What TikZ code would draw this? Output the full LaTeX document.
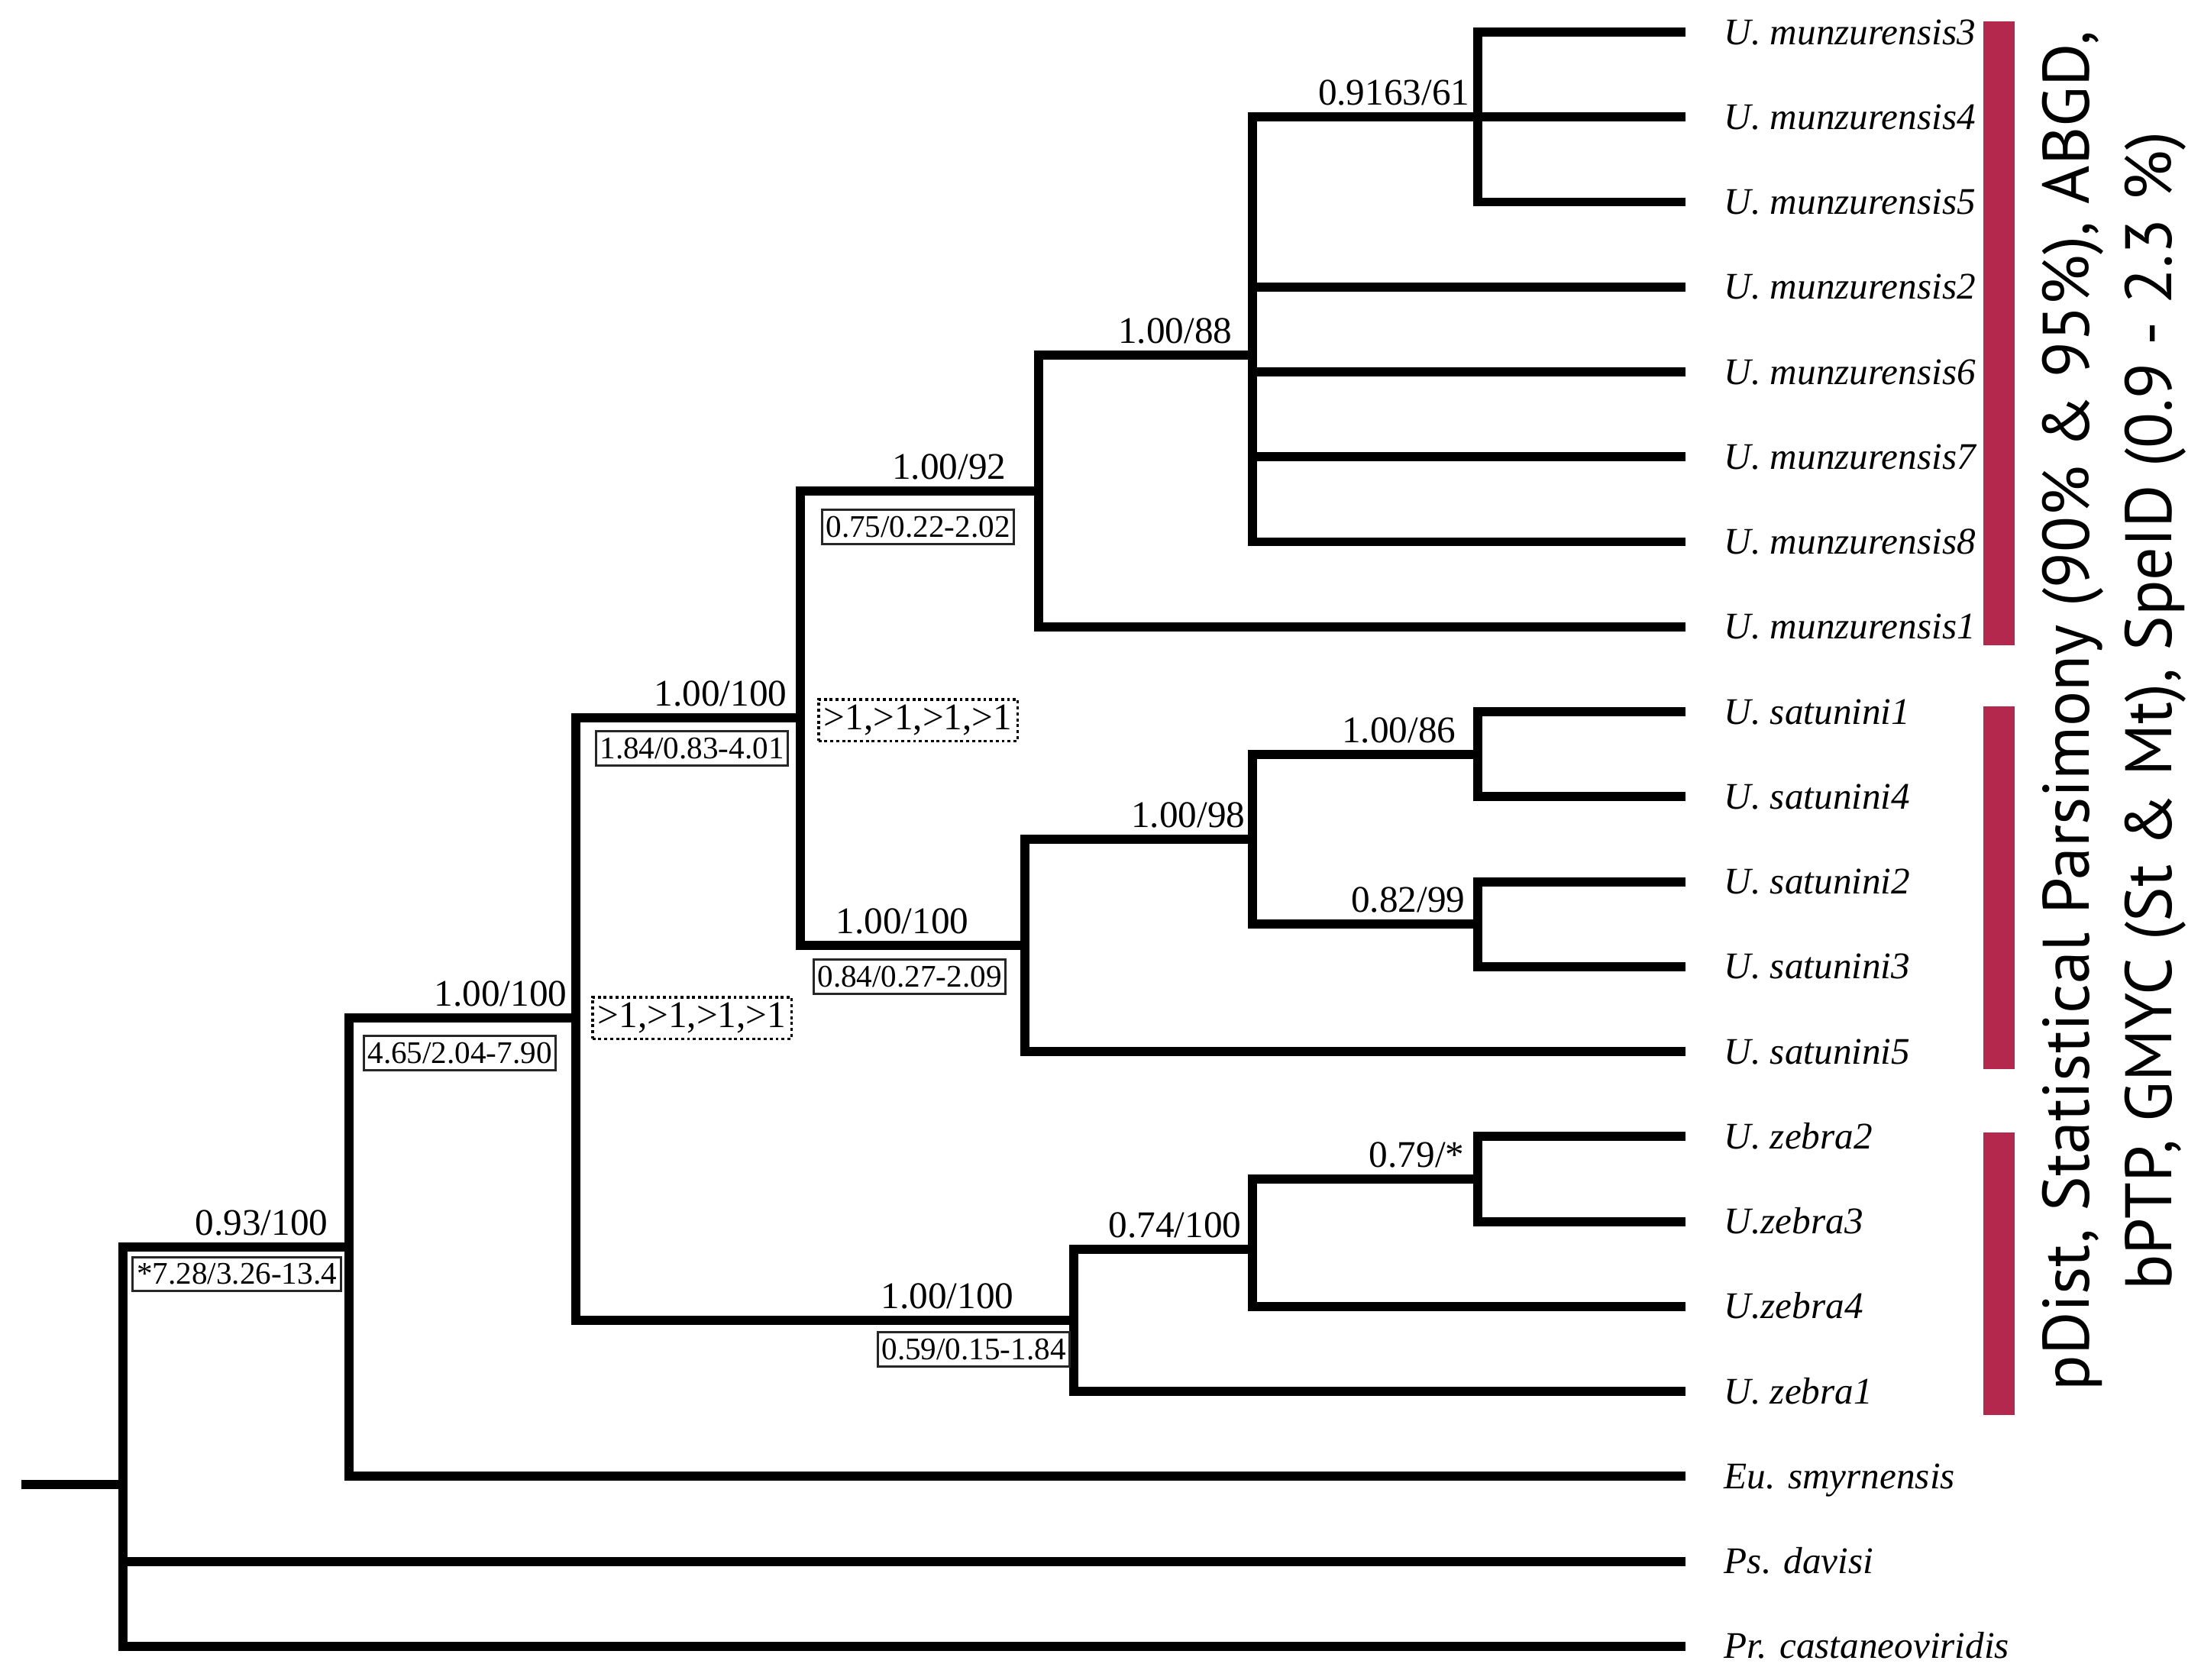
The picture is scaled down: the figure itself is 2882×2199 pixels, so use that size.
\documentclass[tikz,border=0pt]{standalone}
\usepackage{fontspec}
\setmainfont{Liberation Serif}
\newfontfamily\sansf{PT Sans}
\definecolor{barred}{RGB}{181,40,78}
\begin{document}
\begin{tikzpicture}[x=0.01cm,y=-0.01cm,
  br/.style={line width=3.4pt, line join=miter},
  leaf/.style={anchor=base west, inner sep=0pt, font=\fontsize{14}{16}\selectfont\itshape},
  sup/.style={anchor=base east, inner sep=0pt, font=\fontsize{14}{16}\selectfont},
  ci/.style={draw=black!85, line width=0.8pt, fill=white, inner xsep=1.5pt, inner ysep=0pt, minimum height=12.6pt, font=\fontsize{11.7}{13}\selectfont},
  dotbox/.style={draw=black, line width=1pt, dash pattern=on 1.1pt off 1.1pt, inner xsep=2pt, inner ysep=0pt, minimum height=15.5pt, font=\fontsize{14}{16}\selectfont},
  side/.style={rotate=90, anchor=base, inner sep=0pt, font=\sansf\fontsize{24.5}{28}\selectfont}]

\useasboundingbox (0,0) rectangle (2882,2199);

% leaves
\coordinate (L0) at (2207,42);
\coordinate (L1) at (2207,153.25);
\coordinate (L2) at (2207,264.5);
\coordinate (L3) at (2207,375.75);
\coordinate (L4) at (2207,487);
\coordinate (L5) at (2207,598.25);
\coordinate (L6) at (2207,709.5);
\coordinate (L7) at (2207,820.75);
\coordinate (L8) at (2207,932);
\coordinate (L9) at (2207,1043.25);
\coordinate (L10) at (2207,1154.5);
\coordinate (L11) at (2207,1265.75);
\coordinate (L12) at (2207,1377);
\coordinate (L13) at (2207,1488.25);
\coordinate (L14) at (2207,1599.5);
\coordinate (L15) at (2207,1710.75);
\coordinate (L16) at (2207,1822);
\coordinate (L17) at (2207,1933.25);
\coordinate (L18) at (2207,2044.5);
\coordinate (L19) at (2207,2155.75);

% internal nodes
\coordinate (m345) at (1935,153.25);
\coordinate (mA) at (1640,464.75);
\coordinate (mC) at (1360,642.75);
\coordinate (s14) at (1935,987.6);
\coordinate (s23) at (1935,1210.1);
\coordinate (sA) at (1640,1098.9);
\coordinate (sC) at (1342,1237.9);
\coordinate (ms) at (1048,940.3);
\coordinate (z23) at (1935,1543.9);
\coordinate (z234) at (1640,1636);
\coordinate (zC) at (1406,1729);
\coordinate (big) at (754,1333);
\coordinate (ing) at (457,1633);
\coordinate (root) at (161,1944.4);
\coordinate (stub) at (28,1944.4);

% branches
\draw[br] (L0) -| (m345) |- (L2);
\draw[br] (m345) -- (L1);
\draw[br] (m345) -| (mA) |- (L6);
\draw[br] (mA |- L3) -- (L3);
\draw[br] (mA |- L4) -- (L4);
\draw[br] (mA |- L5) -- (L5);
\draw[br] (mA) -| (mC) |- (L7);
\draw[br] (mC) -| (ms) |- (sC);
\draw[br] (L8) -| (s14) |- (L9);
\draw[br] (L10) -| (s23) |- (L11);
\draw[br] (s14) -| (sA) |- (s23);
\draw[br] (sA) -| (sC) |- (L12);
\draw[br] (L13) -| (z23) |- (L14);
\draw[br] (z23) -| (z234) |- (L15);
\draw[br] (z234) -| (zC) |- (L16);
\draw[br] (ms) -| (big) |- (zC);
\draw[br] (big) -| (ing) |- (L17);
\draw[br] (ing) -| (root) |- (L19);
\draw[br] (root |- L18) -- (L18);
\draw[br] (stub) -- (root);

% leaf labels
\tikzset{lab/.style={leaf, xshift=0.5cm, yshift=-4.6pt}}
\node[lab] (t0) at (L0) {U. munzurensis3};
\node[lab] (t1) at (L1) {U. munzurensis4};
\node[lab] (t2) at (L2) {U. munzurensis5};
\node[lab] (t3) at (L3) {U. munzurensis2};
\node[lab] (t4) at (L4) {U. munzurensis6};
\node[lab] (t5) at (L5) {U. munzurensis7};
\node[lab] (t6) at (L6) {U. munzurensis8};
\node[lab] (t7) at (L7) {U. munzurensis1};
\node[lab] (t8) at (L8) {U. satunini1};
\node[lab] (t9) at (L9) {U. satunini4};
\node[lab] (t10) at (L10) {U. satunini2};
\node[lab] (t11) at (L11) {U. satunini3};
\node[lab] (t12) at (L12) {U. satunini5};
\node[lab] (t13) at (L13) {U. zebra2};
\node[lab] (t14) at (L14) {U.zebra3};
\node[lab] (t15) at (L15) {U.zebra4};
\node[lab] (t16) at (L16) {U. zebra1};
\node[lab] (t17) at (L17) {Eu. smyrnensis};
\node[lab] (t18) at (L18) {Ps. davisi};
\node[lab] (t19) at (L19) {Pr. castaneoviridis};

% support values
\node[sup] (v1) at (430,1617) {0.93/100};
\node[sup] (v2) at (743,1317) {1.00/100};
\node[sup] (v3) at (1031,924) {1.00/100};
\node[sup] (v4) at (1318,627) {1.00/92};
\node[sup] (v5) at (1614,449) {1.00/88};
\node[sup] (v6) at (1925,137) {0.9163/61};
\node[sup] (v7) at (1269,1222) {1.00/100};
\node[sup] (v8) at (1631,1083) {1.00/98};
\node[sup] (v9) at (1907,972) {1.00/86};
\node[sup] (v10) at (1919,1194) {0.82/99};
\node[sup] (v11) at (1328,1713) {1.00/100};
\node[sup] (v12) at (1626,1620) {0.74/100};
\node[sup] (v13) at (1918,1528) {0.79/*};

% divergence-time boxes
\node[ci] (b1) at (310,1668.5) {*7.28/3.26-13.4};
\node[ci] (b2) at (602,1379) {4.65/2.04-7.90};
\node[ci] (b3) at (906,980) {1.84/0.83-4.01};
\node[ci] (b4) at (1202,690) {0.75/0.22-2.02};
\node[ci] (b5) at (1191,1279) {0.84/0.27-2.09};
\node[ci] (b6) at (1275,1767) {0.59/0.15-1.84};
\node[dotbox] (d1) at (1202,943) {>1,>1,>1,>1};
\node[dotbox] (d2) at (906,1333) {>1,>1,>1,>1};

% species bars
\fill[barred] (2597,28) rectangle (2638,845);
\fill[barred] (2597,925) rectangle (2638,1400);
\fill[barred] (2597,1483) rectangle (2638,1853);

% method caption
\node[side] (cap1) at (2735,931) {pDist, Statistical Parsimony (90\% \& 95\%), ABGD,};
\node[side] (cap2) at (2843,931) {bPTP, GMYC (St \& Mt), SpeID (0.9 - 2.3 \%)};
\end{tikzpicture}
\end{document}
